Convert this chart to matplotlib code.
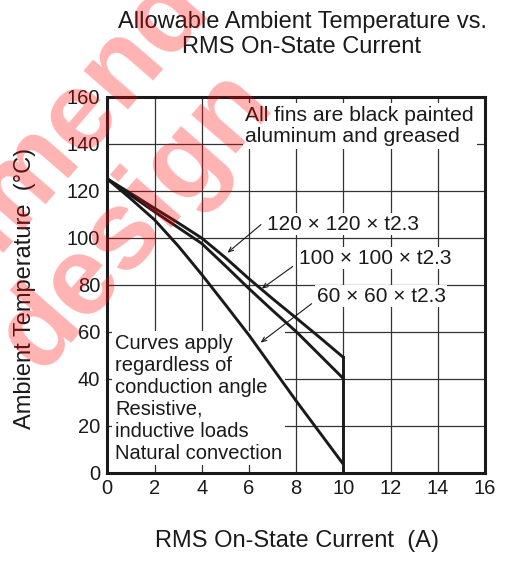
import numpy as np
import matplotlib.pyplot as plt

plt.rcParams['font.family'] = ['Liberation Sans', 'DejaVu Sans']

# RMS on-state current (A)
current = [0, 1, 2, 3, 4, 5, 6, 7, 8, 9, 10]
# allowable ambient temperature (deg C) per fin size
temp_120 = [125, 118.8, 112.5, 106.3, 99.8, 91.5, 82.5, 74, 65.8, 57.5, 49]
temp_100 = [125, 118, 111, 104.3, 97.5, 88, 78.3, 69, 60, 50, 40]
temp_60 = [125, 116.5, 107.6, 96.5, 84.3, 71.5, 58.5, 44.5, 30.5, 17, 3.5]

fin_labels = ['120 × 120 × t2.3', '100 × 100 × t2.3', '60 × 60 × t2.3']
label_pos = [(6.77, 105.7), (8.1, 91.3), (8.88, 75.1)]
arrow_start = [(6.6, 106.3), (7.95, 88.4), (8.75, 72.6)]
arrow_tip = [(5.0, 92.8), (6.45, 77.6), (6.4, 54.6)]

xticks = [0, 2, 4, 6, 8, 10, 12, 14, 16]
yticks = [0, 20, 40, 60, 80, 100, 120, 140, 160]

fig = plt.figure(figsize=(5.09, 5.62), dpi=100)
ax = fig.add_axes([107.3/509, 1-472.5/562, (485-107.3)/509, (472.5-96.7)/562])

ax.plot(current, temp_120, color='#1a1a1a', lw=2.1, zorder=3, solid_capstyle='butt')
ax.plot(current, temp_100, color='#1a1a1a', lw=2.1, zorder=3, solid_capstyle='butt')
ax.plot(current, temp_60, color='#1a1a1a', lw=2.1, zorder=3, solid_capstyle='butt')
ax.plot([current[-1], current[-1]], [0, temp_120[-1]], color='#1a1a1a', lw=2.1, zorder=3)

ax.set_xlim(0, 16)
ax.set_ylim(0, 160)
ax.set_xticks(xticks)
ax.set_yticks(yticks)
ax.grid(True, color='#333333', lw=0.9, zorder=1)
ax.set_axisbelow(True)
ax.tick_params(length=0, labelsize=14.5, pad=5, colors='#1a1a1a')
for s in ax.spines.values():
    s.set_linewidth(2.2)
    s.set_color('#1a1a1a')
    s.set_zorder(5)

for lab, p, a0, a1 in zip(fin_labels, label_pos, arrow_start, arrow_tip):
    ax.text(p[0], p[1], lab, fontsize=15, ha='left', va='center', color='#1a1a1a', zorder=2.5,
            bbox=dict(facecolor='white', edgecolor='none', pad=1.0))
    ax.annotate('', xy=a1, xytext=a0, zorder=4,
                arrowprops=dict(arrowstyle='->,head_length=0.35,head_width=0.15', color='#1a1a1a', lw=0.8))

ax.text(5.85, 147.4, 'All fins are black painted\naluminum and greased', fontsize=15.2, ha='left',
        va='center', color='#1a1a1a', zorder=2.5, linespacing=1.15,
        bbox=dict(facecolor='white', edgecolor='none', pad=2.0))
ax.text(0.33, 31.7, 'Curves apply\nregardless of\nconduction angle\nResistive,\ninductive loads\nNatural convection',
        fontsize=14.5, ha='left', va='center', color='#1a1a1a', zorder=2.5, linespacing=1.2,
        bbox=dict(facecolor='white', edgecolor='none', pad=2.0))

fig.text(302/509, 1-22/562, 'Allowable Ambient Temperature vs.', fontsize=17, ha='center', va='center', color='#1a1a1a')
fig.text(302/509, 1-47/562, 'RMS On-State Current', fontsize=17, ha='center', va='center', color='#1a1a1a')
fig.text(297/509, 1-541/562, 'RMS On-State Current  (A)', fontsize=17, ha='center', va='center', color='#1a1a1a')
fig.text(25/509, 1-288/562, 'Ambient Temperature  (°C)', fontsize=17, ha='center', va='center', rotation=90, color='#1a1a1a')

# watermark
fig.text(275/509, 1-104/562, 'design', fontsize=80, fontweight='bold', color='red', alpha=0.3,
         rotation=49, rotation_mode='anchor', ha='right', va='baseline', zorder=10)
fig.text(298/509, 1-(-85)/562, 'Not recommended', fontsize=80, fontweight='bold', color='red', alpha=0.3,
         rotation=49, rotation_mode='anchor', ha='right', va='baseline', zorder=10)

fig.savefig('out.png', dpi=100)
